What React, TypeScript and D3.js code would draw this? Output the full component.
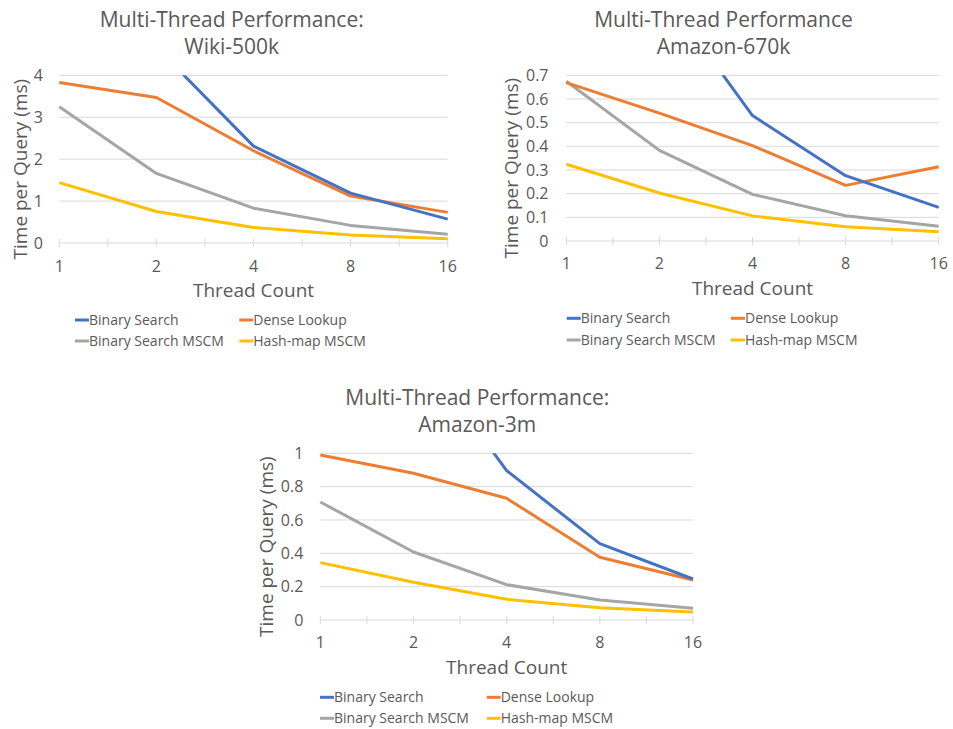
import React, { useEffect, useRef } from 'react';
import * as d3 from 'd3';

// Shared categories / series
const threadCounts = ['1', '2', '4', '8', '16'];
const seriesNames = ['Binary Search', 'Dense Lookup', 'Binary Search MSCM', 'Hash-map MSCM'];
const seriesColors = ['#4472C4', '#ED7D31', '#A5A5A5', '#FFC000'];

// Wiki-500k (ms)
const wikiBinarySearch = [8.4, 4.67, 2.31, 1.19, 0.57];
const wikiDenseLookup = [3.83, 3.47, 2.2, 1.12, 0.73];
const wikiBinaryMscm = [3.25, 1.66, 0.83, 0.42, 0.21];
const wikiHashMscm = [1.44, 0.75, 0.37, 0.19, 0.1];
const wikiTicks = [0, 1, 2, 3, 4];

// Amazon-670k (ms)
const a670BinarySearch = [2.1, 1.07, 0.53, 0.276, 0.142];
const a670DenseLookup = [0.669, 0.54, 0.403, 0.235, 0.314];
const a670BinaryMscm = [0.675, 0.383, 0.197, 0.107, 0.062];
const a670HashMscm = [0.324, 0.203, 0.106, 0.06, 0.039];
const a670Ticks = [0, 0.1, 0.2, 0.3, 0.4, 0.5, 0.6, 0.7];

// Amazon-3m (ms)
const a3mBinarySearch = [3.3, 1.66, 0.896, 0.458, 0.246];
const a3mDenseLookup = [0.99, 0.88, 0.73, 0.376, 0.24];
const a3mBinaryMscm = [0.708, 0.408, 0.212, 0.12, 0.07];
const a3mHashMscm = [0.344, 0.226, 0.124, 0.074, 0.048];
const a3mTicks = [0, 0.2, 0.4, 0.6, 0.8, 1];

const textColor = '#595959';
const gridColor = '#D9D9D9';
const fontFamily = "'Open Sans', 'Noto Sans', sans-serif";

type PanelProps = {
    id: string;
    title: string[];
    series: number[][];
    ticks: number[];
    left: number;
    right: number;
    top: number;
    bottom: number;
    titleX: number;
    titleY: number;
    tickLabelX: number;
    yTitleX: number;
    xLabelY: number;
    xTitleY: number;
    legendX: number[];
    legendY: number[];
};

const Panel: React.FC<PanelProps> = (p) => {
    const ref = useRef<SVGGElement>(null);

    useEffect(() => {
        const g = d3.select(ref.current);
        g.selectAll('*').remove();

        const xScale = d3.scalePoint().domain(threadCounts).range([p.left, p.right]);
        const yMax = p.ticks[p.ticks.length - 1];
        const yScale = d3.scaleLinear().domain([0, yMax]).range([p.bottom, p.top]);

        // titulo
        g.append('text')
            .attr('x', p.titleX)
            .attr('text-anchor', 'middle')
            .style('font-family', fontFamily)
            .style('font-size', '21px')
            .attr('fill', textColor)
            .selectAll('tspan')
            .data(p.title)
            .enter()
            .append('tspan')
            .attr('x', p.titleX)
            .attr('y', (d, i) => p.titleY + i * 27)
            .text((d) => d);

        // gridlines
        g.append('g')
            .selectAll('line')
            .data(p.ticks)
            .enter()
            .append('line')
            .attr('x1', p.left)
            .attr('x2', p.right)
            .attr('y1', (d) => yScale(d))
            .attr('y2', (d) => yScale(d))
            .attr('stroke', gridColor)
            .attr('stroke-width', 1);

        // category ticks (at each category and between)
        const tickXs: number[] = [];
        threadCounts.forEach((c, i) => {
            tickXs.push(xScale(c) || 0);
            if (i < threadCounts.length - 1) {
                tickXs.push(((xScale(c) || 0) + (xScale(threadCounts[i + 1]) || 0)) / 2);
            }
        });
        g.append('g')
            .selectAll('line')
            .data(tickXs)
            .enter()
            .append('line')
            .attr('x1', (d) => d)
            .attr('x2', (d) => d)
            .attr('y1', p.bottom - 4)
            .attr('y2', p.bottom + 4)
            .attr('stroke', gridColor)
            .attr('stroke-width', 1);

        // y tick labels
        g.append('g')
            .selectAll('text')
            .data(p.ticks)
            .enter()
            .append('text')
            .attr('x', p.tickLabelX)
            .attr('y', (d) => yScale(d))
            .attr('dy', '0.35em')
            .attr('text-anchor', 'end')
            .style('font-family', fontFamily)
            .style('font-size', '16px')
            .attr('fill', textColor)
            .text((d) => String(d));

        // x tick labels
        g.append('g')
            .selectAll('text')
            .data(threadCounts)
            .enter()
            .append('text')
            .attr('x', (d) => xScale(d) || 0)
            .attr('y', p.xLabelY)
            .attr('text-anchor', 'middle')
            .style('font-family', fontFamily)
            .style('font-size', '16px')
            .attr('fill', textColor)
            .text((d) => d);

        // axis titles
        g.append('text')
            .attr('x', (p.left + p.right) / 2)
            .attr('y', p.xTitleY)
            .attr('text-anchor', 'middle')
            .style('font-family', fontFamily)
            .style('font-size', '19px')
            .attr('fill', textColor)
            .text('Thread Count');

        const yMid = (p.top + p.bottom) / 2 + 10;
        g.append('text')
            .attr('transform', `translate(${p.yTitleX},${yMid}) rotate(-90)`)
            .attr('dy', '0.35em')
            .attr('text-anchor', 'middle')
            .style('font-family', fontFamily)
            .style('font-size', '19px')
            .attr('fill', textColor)
            .text('Time per Query (ms)');

        // clip for values above the axis max
        g.append('clipPath')
            .attr('id', `clip-${p.id}`)
            .append('rect')
            .attr('x', p.left - 5)
            .attr('y', p.top)
            .attr('width', p.right - p.left + 10)
            .attr('height', p.bottom - p.top + 10);

        const line = d3
            .line<number>()
            .x((d, i) => xScale(threadCounts[i]) || 0)
            .y((d) => yScale(d));

        g.append('g')
            .attr('clip-path', `url(#clip-${p.id})`)
            .selectAll('path')
            .data(p.series.slice().reverse())
            .enter()
            .append('path')
            .attr('d', (d) => line(d))
            .attr('fill', 'none')
            .attr('stroke', (d, i) => seriesColors[p.series.length - 1 - i])
            .attr('stroke-width', 3)
            .attr('stroke-linejoin', 'round');

        // legend 2x2
        const legend = g
            .append('g')
            .selectAll('g')
            .data(seriesNames)
            .enter()
            .append('g')
            .attr('transform', (d, i) => `translate(${p.legendX[i % 2]},${p.legendY[Math.floor(i / 2)]})`);

        legend
            .append('line')
            .attr('x1', 0)
            .attr('x2', 14)
            .attr('stroke', (d, i) => seriesColors[i])
            .attr('stroke-width', 3);

        legend
            .append('text')
            .attr('x', 14)
            .attr('dy', '0.35em')
            .style('font-family', fontFamily)
            .style('font-size', '14px')
            .attr('fill', textColor)
            .text((d) => d);
    }, [p]);

    return <g ref={ref}></g>;
};

const App: React.FC = () => {
    return (
        <div style={{ position: 'absolute', left: 0, top: 0, background: '#fff' }}>
            <svg width={953} height={729}>
                <Panel
                    id="wiki"
                    title={['Multi-Thread Performance:', 'Wiki-500k']}
                    series={[wikiBinarySearch, wikiDenseLookup, wikiBinaryMscm, wikiHashMscm]}
                    ticks={wikiTicks}
                    left={59.3}
                    right={447.7}
                    top={75.3}
                    bottom={243}
                    titleX={231.7}
                    titleY={27.3}
                    tickLabelX={43}
                    yTitleX={20}
                    xLabelY={272.3}
                    xTitleY={296.7}
                    legendX={[75, 239.3]}
                    legendY={[320, 341]}
                />
                <Panel
                    id="a670"
                    title={['Multi-Thread Performance', 'Amazon-670k']}
                    series={[a670BinarySearch, a670DenseLookup, a670BinaryMscm, a670HashMscm]}
                    ticks={a670Ticks}
                    left={566.3}
                    right={938.7}
                    top={75.3}
                    bottom={241}
                    titleX={723.5}
                    titleY={27.3}
                    tickLabelX={548.5}
                    yTitleX={511.7}
                    xLabelY={268.7}
                    xTitleY={295}
                    legendX={[566.7, 731]}
                    legendY={[318.3, 340]}
                />
                <Panel
                    id="a3m"
                    title={['Multi-Thread Performance:', 'Amazon-3m']}
                    series={[a3mBinarySearch, a3mDenseLookup, a3mBinaryMscm, a3mHashMscm]}
                    ticks={a3mTicks}
                    left={320.3}
                    right={693}
                    top={453.3}
                    bottom={620}
                    titleX={477.3}
                    titleY={405}
                    tickLabelX={303.3}
                    yTitleX={266}
                    xLabelY={648}
                    xTitleY={674}
                    legendX={[320, 486.7]}
                    legendY={[697.3, 718.3]}
                />
            </svg>
        </div>
    );
};

export default App;
